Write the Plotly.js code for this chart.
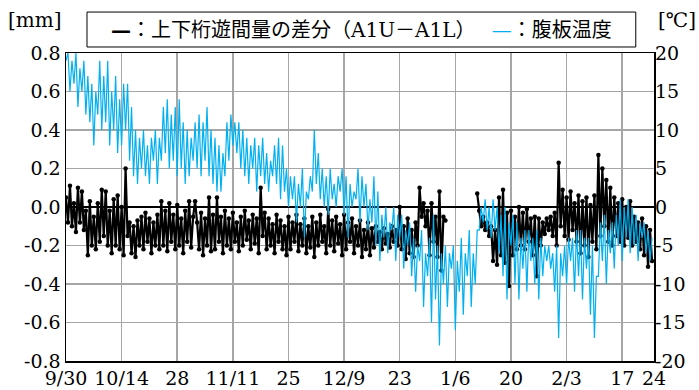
<!DOCTYPE html>
<html>
<head>
<meta charset="utf-8">
<script src="https://cdn.plot.ly/plotly-3.0.1.min.js"></script>
<style>html,body{margin:0;padding:0;background:#fff;}#chart{width:699px;height:390px;}</style>
</head>
<body>
<div id="chart"></div>
<script>
// Time base: two readings per day starting 2019-09-30 00:00 (every 12 h)
const startDate = Date.UTC(2019, 8, 30);
const stepHours = 12;

// 腹板温度 [°C] (right axis)
const webTemp = [
19,20, 15,19, 16,20, 13,18, 15,19, 12,17, 11,16, 8,15, 12,19, 10,17,
11,19, 8,15, 10,17, 7,14, 8,16, 10,16, 6,13, 4,10, 3,9, 5,10,
4,8, 3,9, 6,10, 3,9, 6,13, 7,14, 5,12, 6,13, 4,14, 5,11,
3,10, 4,9, 6,11, 5,12, 4,11, 6,13, 4,10, 3,9, 2,8, 2,7,
4,11, 6,12, 8,11, 7,11, 5,10, 4,9, 3,8, 5,9, 2,8, 4,9,
3,7, 2,6, 4,8, 3,9, 1,8, 2,5, 0,4, 1,4, -2,3, 0,5,
-4,2, 1,4, 2,10, 3,7, 1,5, 0,4, -1,5, 1,3, 0,4, 2,5,
-1,4, -4,3, 0,2, 1,5, -2,4, 0,3, -3,1, -2,4, -5,2, -7,-1,
-4,0, -6,-2, -3,0, -7,-1, -4,-1, -8,-3, -5,-2, -9,-4, -11,-5, -7,-3,
-13,-6, -9,-4, -15,-1, -12,-5, -18,-6, -10,-5, -13,-6, -8,-5, -16,-7, -11,-4,
-14,-6, -9,-3, -13,-6, -10,-3, -3,0, -2,1, -3,0, -4,1, -3,0, -6,-1,
-9,0, -12,-2, -5,-1, -10,-2, -12,-4, -8,-3, -11,-3, -7,-4, -10,-3, -12,-4,
-9,-5, -7,-5, -8,-6, -11,-5, -17,-6, -9,-5, -10,-4, -7,-4, -11,-3, -9,-3,
-12,-4, -8,-4, -14,-5, -17,-9, -9,-2, -7,-1, -10,-3, -6,-2, -8,-1, -5,1,
-7,0, -4,1, -6,0, -5,-1, -7,-2, -4,-2, -6,-3, -7,-4
];

// 上下桁遊間量の差分 (A1U−A1L) [mm] (left axis)
const gapDiff = [
0.05,-0.08, 0.11,-0.10, 0.02,-0.13, 0.10,-0.08, 0.08,-0.12, -0.02,-0.25, 0.03,-0.20, -0.05,-0.22, 0.02,-0.18, 0.09,-0.15,
0.08,-0.20, -0.02,-0.24, 0.04,-0.20, 0.06,-0.22, 0.00,-0.25, 0.20,-0.15, -0.08,-0.24, -0.10,-0.26, -0.07,-0.20, -0.05,-0.22,
-0.03,-0.18, -0.06,-0.24, -0.08,-0.20, -0.04,-0.22, 0.03,-0.20, -0.02,-0.23, 0.02,-0.18, -0.04,-0.22, 0.01,-0.20, -0.06,-0.24,
-0.02,-0.18, 0.03,-0.21, -0.05,0.03, -0.08,-0.22, -0.03,-0.25, -0.06,-0.20, 0.05,-0.23, -0.04,-0.22, 0.05,-0.18, -0.05,-0.24,
-0.02,-0.20, -0.06,-0.22, -0.03,-0.18, -0.08,-0.23, -0.05,-0.20, -0.02,-0.17, -0.07,-0.22, -0.04,-0.19, -0.06,-0.24, 0.10,-0.15,
-0.03,-0.22, -0.06,-0.20, -0.09,-0.24, -0.04,-0.18, -0.07,-0.22, -0.10,-0.25, -0.05,-0.22, -0.08,-0.18, -0.04,-0.23, -0.09,-0.20,
-0.06,-0.24, -0.10,-0.21, -0.05,-0.26, -0.08,-0.20, -0.04,-0.18, -0.10,-0.24, -0.01,-0.20, -0.07,-0.23, -0.05,-0.19, -0.09,-0.25,
-0.04,-0.22, -0.08,-0.18, -0.06,-0.24, -0.10,-0.20, -0.07,-0.26, -0.12,-0.22, -0.08,-0.25, -0.11,-0.21, -0.10,-0.18, -0.13,-0.22,
-0.11,-0.19, -0.14,-0.21, -0.10,-0.18, -0.12,-0.20, 0.00,-0.22, -0.10,-0.27, -0.06,-0.24, -0.12,-0.26, -0.08,-0.20, 0.10,-0.05,
0.02,-0.10, -0.02,-0.25, 0.02,-0.18, -0.05,-0.26, 0.08,-0.33, -0.05,-0.07, null,null, null,null, null,null, null,null,
null,null, null,null, null,null, null,0.07, -0.02,-0.10, -0.05,-0.12, -0.08,-0.15, -0.10,-0.28, -0.12,-0.30, 0.05,-0.25,
0.09,-0.29, -0.03,-0.41, -0.02,-0.25, -0.05,-0.22, 0.00,-0.20, -0.03,-0.22, -0.01,-0.18, -0.06,-0.25, -0.05,-0.36, -0.06,-0.20,
-0.08,-0.14, -0.06,-0.12, -0.05,-0.15, -0.03,-0.20, 0.23,-0.10, 0.09,-0.15, 0.05,-0.17, 0.08,-0.12, 0.02,-0.18, 0.06,-0.24,
0.03,-0.20, 0.05,-0.26, 0.01,-0.18, 0.06,-0.22, 0.27,-0.15, 0.20,-0.10, 0.14,-0.18, 0.10,-0.20, 0.05,-0.15, 0.02,-0.18,
0.04,-0.20, 0.00,-0.16, 0.03,-0.20, -0.05,-0.18, -0.08,-0.22, -0.06,-0.25, -0.10,-0.31, -0.12,-0.28
];

// Axis ticks
const xTickVals = ['2019-09-30','2019-10-14','2019-10-28','2019-11-11','2019-11-25','2019-12-09',
                   '2019-12-23','2020-01-06','2020-01-20','2020-02-03','2020-02-17','2020-02-25'];
const xTickText = ['9/30','10/14','28','11/11','25','12/9','23','1/6','20','2/3','17','24'];
const mmTickVals = [-0.8,-0.6,-0.4,-0.2,0,0.2,0.4,0.6,0.8];
const mmTickText = ['-0.8','-0.6','-0.4','-0.2','0.0','0.2','0.4','0.6','0.8'];
const degTickVals = [-20,-15,-10,-5,0,5,10,15,20];
const degTickText = ['-20','-15','-10','-5','0','5','10','15','20'];

function timeAt(i) {
  return new Date(startDate + i * stepHours * 3600 * 1000).toISOString().slice(0, 16).replace('T', ' ');
}
const tTemp = webTemp.map((_, i) => timeAt(i));
const tGap = gapDiff.map((_, i) => timeAt(i));

const serif = 'DejaVu Serif, Liberation Serif, Noto Sans CJK JP, serif';
const tickFont = {family: serif, size: 19, color: '#000'};

const traces = [
  {x: tGap, y: gapDiff, type: 'scatter', mode: 'lines+markers', yaxis: 'y',
   line: {color: '#000', width: 2.2}, marker: {color: '#000', size: 4.5},
   connectgaps: false, showlegend: false, hoverinfo: 'skip'},
  {x: tTemp, y: webTemp, type: 'scatter', mode: 'lines', yaxis: 'y2',
   line: {color: '#00b0f0', width: 1.2}, showlegend: false, hoverinfo: 'skip'}
];

const layout = {
  width: 699, height: 390,
  margin: {l: 66, r: 45, t: 53, b: 29},
  paper_bgcolor: '#fff', plot_bgcolor: '#fff',
  showlegend: false,
  xaxis: {type: 'date', range: ['2019-09-30', '2020-02-25'],
          tickmode: 'array', tickvals: xTickVals, ticktext: xTickText,
          showgrid: true, gridcolor: '#a6a6a6', gridwidth: 1.5, zeroline: false,
          showline: true, linecolor: '#000', linewidth: 1.5, mirror: true,
          ticks: '', tickfont: tickFont},
  yaxis: {range: [-0.8, 0.8], tickmode: 'array', tickvals: mmTickVals, ticktext: mmTickText,
          showgrid: true, gridcolor: '#a6a6a6', gridwidth: 1.5,
          zeroline: true, zerolinecolor: '#000', zerolinewidth: 2.5,
          showline: true, linecolor: '#000', linewidth: 1.5, mirror: true,
          ticks: '', tickfont: tickFont},
  yaxis2: {range: [-20, 20], overlaying: 'y', side: 'right',
           tickmode: 'array', tickvals: degTickVals, ticktext: degTickText,
           showgrid: false, zeroline: false, showline: false, ticks: '', tickfont: tickFont},
  shapes: [
    {type: 'rect', xref: 'paper', yref: 'paper', x0: 0.0357, x1: 0.969, y0: 1.0195, y1: 1.133,
     line: {color: '#000', width: 1}, fillcolor: '#fff', layer: 'above'}
  ],
  annotations: [
    {xref: 'paper', yref: 'paper', x: 0.5026, y: 1.076, xanchor: 'center', yanchor: 'middle',
     showarrow: false, font: {family: serif, size: 20, color: '#000'},
     text: '<span style="color:#000"><b>—</b></span>：上下桁遊間量の差分（A1U－A1L）　 <span style="color:#00b0f0">—</span>：腹板温度'},
    {xref: 'paper', yref: 'paper', x: -0.0527, y: 1.107, xanchor: 'center', yanchor: 'middle',
     showarrow: false, font: {family: serif, size: 20, color: '#000'}, text: '[mm]'},
    {xref: 'paper', yref: 'paper', x: 1.0748, y: 1.107, xanchor: 'right', yanchor: 'middle',
     showarrow: false, font: {family: serif, size: 20, color: '#000'}, text: '[℃]'}
  ]
};

Plotly.newPlot('chart', traces, layout, {staticPlot: true, displayModeBar: false});
</script>
</body>
</html>
